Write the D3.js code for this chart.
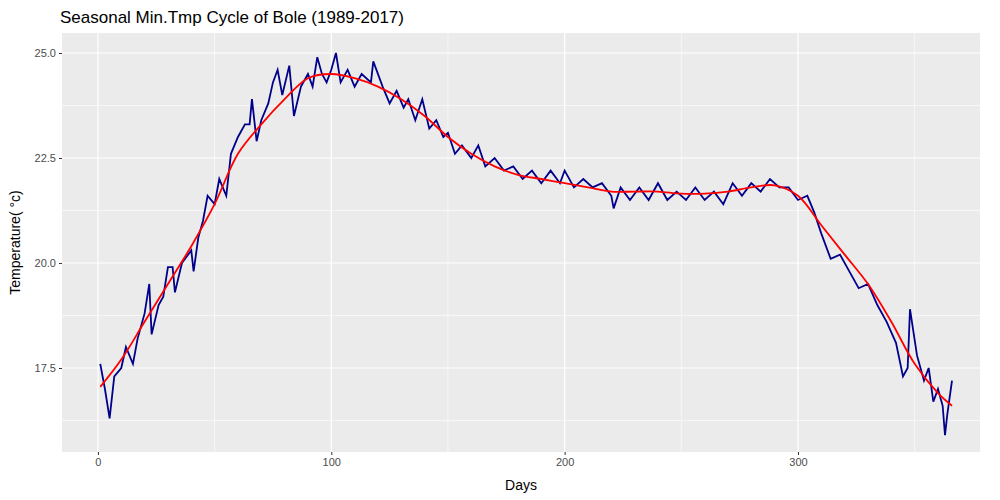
<!DOCTYPE html><html><head><meta charset="utf-8"><script src="https://cdn.jsdelivr.net/npm/d3@7"></script>
<style>body{margin:0;background:#fff}text{font-family:"Liberation Sans",Arial,sans-serif}</style></head><body><svg width="1000" height="500"></svg>
<script>
const days=[1,3,5,7,10,12,15,17,20,22,23,26,28,30,32,33,36,40,41,43,45,47,50,52,55,57,60,63,65,66,68,70,73,75,77,79,82,84,87,90,92,94,96,98,100,102,104,107,110,113,117,118,122,125,128,131,133,136,139,142,145,148,150,153,156,160,163,166,170,174,178,182,186,190,194,198,200,204,208,212,216,220,221,224,228,232,236,240,244,248,252,256,260,264,268,272,276,280,284,288,292,296,300,304,307,310,314,318,322,326,330,334,338,342,345,347,348,351,354,356,358,360,362,363,364,366];
const temps=[17.6,17.0,16.3,17.3,17.5,18.0,17.6,18.2,18.8,19.5,18.3,19.0,19.2,19.9,19.9,19.3,20.0,20.3,19.8,20.6,21.0,21.6,21.4,22.0,21.6,22.6,23.0,23.3,23.3,23.9,22.9,23.4,23.8,24.3,24.6,24.0,24.7,23.5,24.2,24.5,24.2,24.9,24.5,24.3,24.6,25.0,24.3,24.6,24.2,24.5,24.3,24.8,24.2,23.8,24.1,23.7,23.9,23.4,23.9,23.2,23.4,23.0,23.1,22.6,22.8,22.5,22.8,22.3,22.5,22.2,22.3,22.0,22.2,21.9,22.2,21.9,22.2,21.8,22.0,21.8,21.9,21.6,21.3,21.8,21.5,21.8,21.5,21.9,21.5,21.7,21.5,21.8,21.5,21.7,21.4,21.9,21.6,21.9,21.7,22.0,21.8,21.8,21.5,21.6,21.2,20.7,20.1,20.2,19.8,19.4,19.5,19.0,18.6,18.1,17.3,17.5,18.9,17.8,17.2,17.5,16.7,17.0,16.6,15.9,16.4,17.2];
const smoothDays=[1,10,20,30,40,50,60,70,80,90,100,110,120,130,140,150,160,170,180,190,200,210,220,230,240,250,260,270,280,290,300,310,320,330,340,350,360,366];
const smoothVals=[17.05,17.7,18.6,19.5,20.4,21.4,22.6,23.3,23.9,24.4,24.5,24.4,24.2,23.9,23.5,23.0,22.6,22.3,22.1,22.0,21.9,21.8,21.7,21.7,21.7,21.65,21.65,21.7,21.8,21.85,21.6,20.9,20.2,19.5,18.6,17.6,16.9,16.6];
const xTicks=[0,100,200,300], yTicks=[17.5,20.0,22.5,25.0];
const svg=d3.select("svg");
const L=62,R=980,T=33,B=452;
const x=d3.scaleLinear().domain([-15.4,378]).range([L,R]);
const y=d3.scaleLinear().domain([15.5,25.476]).range([B,T]);
svg.append("rect").attr("x",L).attr("y",T).attr("width",R-L).attr("height",B-T).attr("fill","#EBEBEB");
const g=svg.append("g");
[50,150,250,350].forEach(v=>g.append("line").attr("x1",x(v)).attr("x2",x(v)).attr("y1",T).attr("y2",B).attr("stroke","#fff").attr("stroke-width",0.6));
[16.25,18.75,21.25,23.75].forEach(v=>g.append("line").attr("y1",y(v)).attr("y2",y(v)).attr("x1",L).attr("x2",R).attr("stroke","#fff").attr("stroke-width",0.6));
xTicks.forEach(v=>g.append("line").attr("x1",x(v)).attr("x2",x(v)).attr("y1",T).attr("y2",B).attr("stroke","#fff").attr("stroke-width",1.2));
yTicks.forEach(v=>g.append("line").attr("y1",y(v)).attr("y2",y(v)).attr("x1",L).attr("x2",R).attr("stroke","#fff").attr("stroke-width",1.2));
const xa=svg.append("g").attr("transform",`translate(0,${B})`).call(d3.axisBottom(x).tickValues(xTicks).tickSize(3).tickFormat(d3.format("d")));
const ya=svg.append("g").attr("transform",`translate(${L},0)`).call(d3.axisLeft(y).tickValues(yTicks).tickSize(3).tickFormat(d3.format(".1f")));
[xa,ya].forEach(a=>{a.select(".domain").remove();a.selectAll("line").attr("stroke","#333");a.selectAll("text").attr("fill","#4D4D4D").style("font-size","11px");});
const pts=days.map((d,i)=>[d,temps[i]]);
svg.append("path").attr("d",d3.line().x(d=>x(d[0])).y(d=>y(d[1]))(pts)).attr("fill","none").attr("stroke","#00008B").attr("stroke-width",1.8);
const sp=smoothDays.map((d,i)=>[d,smoothVals[i]]);
svg.append("path").attr("d",d3.line().curve(d3.curveCatmullRom).x(d=>x(d[0])).y(d=>y(d[1]))(sp)).attr("fill","none").attr("stroke","#FF0000").attr("stroke-width",1.8);
svg.append("text").attr("x",60).attr("y",23).text("Seasonal Min.Tmp Cycle of Bole (1989-2017)").style("font-size","17px").attr("fill","#000");
svg.append("text").attr("x",(L+R)/2).attr("y",490).attr("text-anchor","middle").text("Days").style("font-size","14px");
svg.append("text").attr("transform",`translate(20,${(T+B)/2}) rotate(-90)`).attr("text-anchor","middle").text("Temperature( °c)").style("font-size","14px");
</script></body></html>
